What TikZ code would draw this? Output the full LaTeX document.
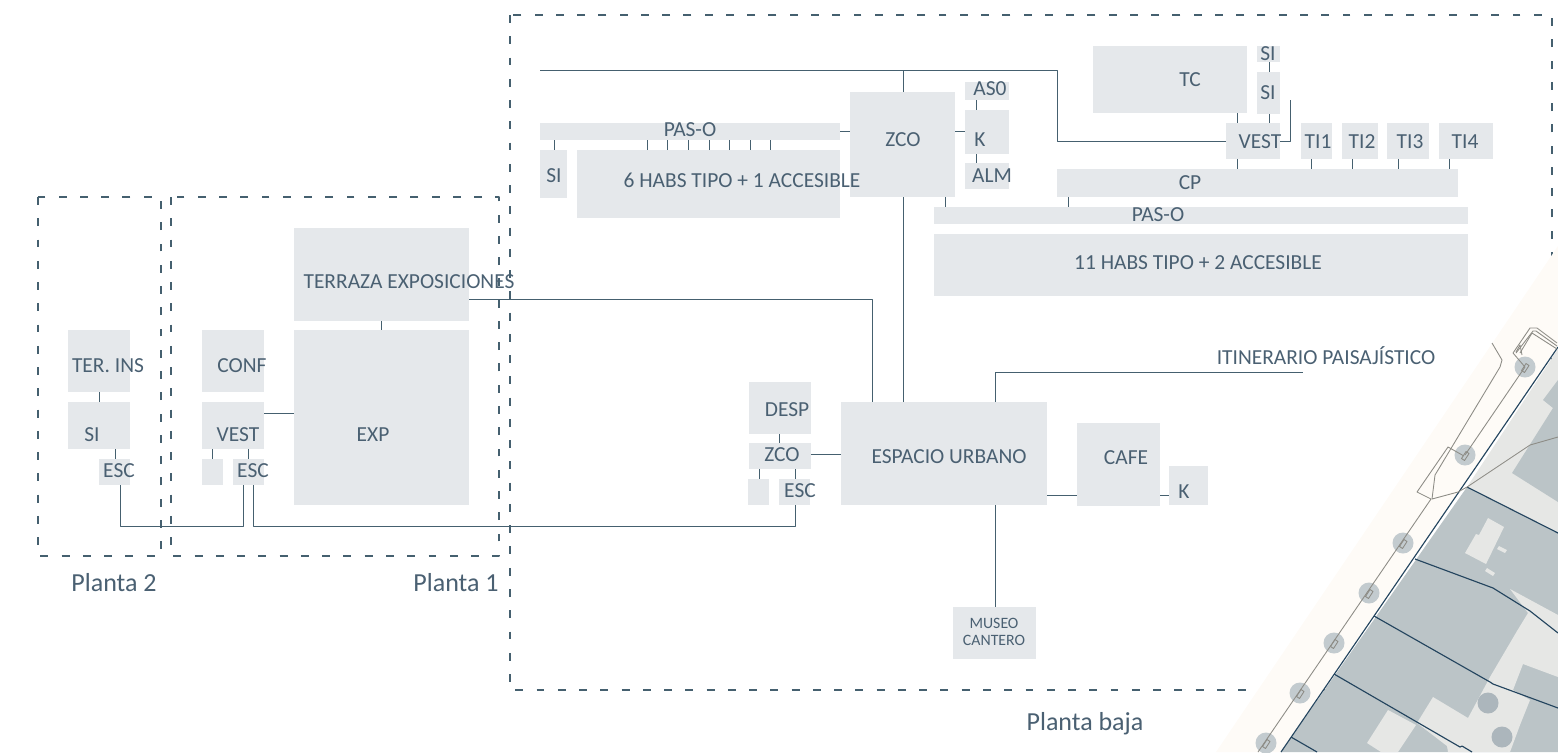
\documentclass[tikz,border=0pt]{standalone}
\usepackage{fontspec}
\setmainfont{Carlito}
\usepackage{pgf,tikz}
\usetikzlibrary{fit}
\definecolor{roomfill}{HTML}{E5E8EB}
\definecolor{inkblue}{HTML}{4A6072}
\definecolor{linkblue}{HTML}{45606F}
\definecolor{bandfill}{HTML}{FEFBF7}
\definecolor{parcel}{HTML}{BBC4C7}
\definecolor{builtfill}{HTML}{E6E7E5}
\definecolor{treefill}{HTML}{C3CBCF}
\definecolor{bigtree}{HTML}{ACB6BC}
\definecolor{edgeblue}{HTML}{24455F}
\definecolor{mapgrey}{HTML}{8D8C86}
\tikzset{
  room/.style={fill=roomfill,inner sep=0pt,outer sep=0pt},
  roomtext/.style={text=inkblue,inner sep=0pt,text height=8pt,text depth=0pt,font=\fontsize{12.2pt}{14pt}\selectfont},
  plantatext/.style={text=inkblue,inner sep=0pt,text height=9pt,text depth=0pt,font=\fontsize{14.8pt}{16pt}\selectfont},
  link/.style={draw=linkblue,line width=0.5pt},
  dashbox/.style={draw=linkblue,line width=0.6pt,dash pattern=on 4.5pt off 7.6pt},
  mapline/.style={draw=mapgrey,line width=0.5pt},
  edgeline/.style={draw=edgeblue,line width=0.65pt}
}
\newcommand{\vlink}[3]{\draw[link] (#1,0 |- #2.south) -- (#1,0 |- #3.north);}
\newcommand{\hlink}[3]{\draw[link] (#2.east |- 0,#1) -- (#3.west |- 0,#1);}
\begin{document}
\begin{tikzpicture}[line cap=butt,line join=round,x=0.02cm,y=-0.02cm]
\useasboundingbox (0,0) rectangle (1558,752);
% plantas
\draw[dashbox] (38,197) rectangle (161,556);
\draw[dashbox] (171,197) rectangle (499,556);
\draw[dashbox] (510,15) rectangle (1552,690);
% plano
\fill[bandfill] (1560,243) -- (1560,345) -- (1281,752) -- (1216,752) -- cycle;
\fill[builtfill] (1558,349) -- (1467,487) -- (1558,533) -- cycle;
\fill[parcel] (1558,380) -- (1543,400) -- (1553,408) -- (1512,473) -- (1558,502) -- cycle;
\fill[parcel] (1467,487) -- (1558,533) -- (1558,752) -- (1281,752) -- cycle;
\fill[builtfill] (1488,518) -- (1504,527) -- (1486,564) -- (1465,553) -- (1476,534) -- (1479,535) -- cycle;
\fill[builtfill] (1499,546) -- (1507,550) -- (1505,553) -- (1497,549) -- cycle;
\fill[builtfill] (1487,568) -- (1495,573) -- (1493,576) -- (1485,571) -- cycle;
\fill[builtfill] (1510,589) -- (1558,615) -- (1558,677) -- (1523,664) -- (1513,690) -- (1530,700) -- (1520,725) -- (1510,752) -- (1448,752) -- (1447,746) -- (1417,723) -- (1433,697) -- (1468,718) -- (1490,677) -- (1517,631) -- (1528,613) -- cycle;
\fill[builtfill] (1367,743) -- (1388,710) -- (1416,725) -- (1398,752) -- (1381,752) -- cycle;
\fill[bigtree] (1488,703) circle (10.5);
\fill[bigtree] (1502,737) circle (10.5);
\foreach \tx/\ty in {1525/367,1465/455,1403/543,1369/593,1334/643,1300/693,1266/743}
  \fill[treefill] (\tx,\ty) circle (10.5);
\draw[edgeline] (1558,347) -- (1281,752);
\draw[edgeline] (1467,487) -- (1558,533);
\draw[edgeline] (1415,559) -- (1493,588) -- (1530,611) -- (1558,633);
\draw[edgeline] (1374,616) -- (1490,682) -- (1493,684) -- (1558,708);
\draw[edgeline] (1334,674) -- (1460,747) -- (1462,746) -- (1472,752);
\draw[edgeline] (1291,737) -- (1317,752);
\draw[mapline] (1258,752) -- (1431,499) -- (1417,492) -- (1448,447) -- (1464,456);
\draw[mapline] (1465,455) -- (1525,367) -- (1513,353) -- (1530,328) -- (1537,328) -- (1557,343);
\draw[mapline] (1516,353) -- (1533,331) -- (1536,331) -- (1557,346);
\draw[mapline] (1520,353) -- (1532,333) -- (1557,349);
\draw[mapline] (1516,352) -- (1520,345) -- (1522,355);
\draw[mapline] (1492,343) -- (1502,360) -- (1500,367) -- (1435,475) -- (1432,499) -- (1458,492) -- (1467,487) -- (1530,445) -- (1558,437);
\foreach \tx/\ty in {1525/367,1465/455,1403/543,1369/593,1334/643,1300/693,1266/743}
  \draw[mapline] (\tx,\ty) +(-3.5,3.5) -- +(-0.5,5.5) -- +(4,-1.5) -- +(1,-3.5) -- cycle;
% salas
\foreach \nm/\xa/\ya/\xb/\yb in {
  ter/68/330/130/392,sib/68/402/130/449,escb/99/459/130/485,
  conf/202/330/264/392,vestb/202/402/264/449,blanka/202/459/223/485,esca/233/459/264/485,
  terr/294/228/469/321,exp/294/330/469/505,
  desp/749/382/811/434,zcob/749/443/811/469,blankb/748/479/769/505,escc/779/479/810/505,
  eu/841/402/1047/505,cafe/1077/423/1160/506,kb/1169/466/1208/505,museo/953/607/1036/659,
  paso/540/123/840/140,sil/540/150/567/198,habsa/577/150/840/218,
  zco/850/92/955/197,aso/965/82/1009/100,kt/965/110/1009/154,alm/965/163/1009/189,
  tc/1093/46/1247/113,sia/1257/46/1280/62,sic/1257/72/1280/114,vest/1226/123/1280/159,
  tia/1301/123/1332/159,tib/1342/123/1378/159,tic/1387/123/1429/159,tid/1439/123/1493/159,
  cp/1057/169/1458/197,pasob/934/207/1468/224,habsb/934/234/1468/296}
  \node[room,fit={(\xa,\ya) (\xb,\yb)}] (\nm) {};
% enlaces
\vlink{99}{ter}{sib}
\vlink{115}{sib}{escb}
\vlink{212}{vestb}{blanka}
\vlink{248}{vestb}{esca}
\vlink{381}{terr}{exp}
\hlink{413}{vestb}{exp}
\vlink{779}{desp}{zcob}
\vlink{759}{zcob}{blankb}
\vlink{795}{zcob}{escc}
\hlink{454}{zcob}{eu}
\hlink{495}{eu}{cafe}
\hlink{495}{cafe}{kb}
\vlink{995}{eu}{museo}
\vlink{903}{zco}{eu}
\vlink{945}{zco}{pasob}
\vlink{554}{paso}{sil}
\foreach \tx in {647,667,688,709,729,750,770}
  \vlink{\tx}{paso}{habsa}
\hlink{131}{paso}{zco}
\hlink{131}{zco}{kt}
\vlink{976}{aso}{kt}
\vlink{976}{kt}{alm}
\vlink{1237}{tc}{vest}
\vlink{1269}{sia}{sic}
\vlink{1269}{sic}{vest}
\vlink{1237}{vest}{cp}
\vlink{1311}{tia}{cp}
\vlink{1352}{tib}{cp}
\vlink{1398}{tic}{cp}
\vlink{1449}{tid}{cp}
\vlink{1068}{cp}{pasob}
\coordinate (topstart) at (540,70);
\coordinate (topzco) at (903,70);
\coordinate (vestend) at (1290,100);
\coordinate (itinend) at (1303,372);
\draw[link] (topstart) -- (1057,70) -- (1057,141) -- (vest.west |- 0,141);
\draw[link] (topzco) -- (zco.north -| topzco);
\draw[link] (vest.east |- 0,141) -- (1290,141) -- (vestend);
\draw[link] (995,0 |- eu.north) -- (995,372) -- (itinend);
\draw[link] (terr.east |- 0,299) -- (872,299) -- (872,0 |- eu.north);
\draw[link] (120,0 |- escb.south) -- (120,526) -- (243,526) -- (243,0 |- esca.south);
\draw[link] (253,0 |- esca.south) -- (253,526) -- (795,526) -- (795,0 |- escc.south);
% textos
\foreach \nm/\lx/\ly/\lb in {
  lter/108/365/TER. INS,lsib/92/434/SI,lescb/119/470/ESC,
  lconf/242/365/CONF,lvestb/238/434/VEST,lesca/253/470/ESC,
  lterr/409/281/TERRAZA EXPOSICIONES,lexp/373/434/EXP,
  ldesp/787/409/DESP,lzcob/782/454/ZCO,lescc/800/490/ESC,
  leu/949/456/ESPACIO URBANO,lcafe/1126/457/CAFE,lkb/1184/491/K,
  lpaso/690/129/PAS-O,lsil/554/175/SI,lhabsa/742/180/6 HABS TIPO + 1 ACCESIBLE,
  lzco/903/139/ZCO,laso/990/88/AS0,lkt/980/139/K,lalm/992/175/ALM,
  ltc/1190/79/TC,lsia/1268/53/SI,lsic/1268/92/SI,lvest/1260/141/VEST,
  ltia/1318/141/TI1,ltib/1362/141/TI2,ltic/1410/141/TI3,ltid/1465/141/TI4,
  lcp/1190/182/CP,lpasob/1158/214/PAS-O,lhabsb/1198/262/11 HABS TIPO + 2 ACCESIBLE,
  litin/1326/357/ITINERARIO PAISAJÍSTICO}
  \node[roomtext] (\nm) at (\lx,\ly) {\lb};
\node[roomtext,font=\fontsize{9pt}{10pt}\selectfont,text height=6pt] (lmuseoa) at (994,623) {MUSEO};
\node[roomtext,font=\fontsize{9pt}{10pt}\selectfont,text height=6pt] (lmuseob) at (994,640) {CANTERO};
\node[plantatext] (lpdos) at (114,584) {Planta 2};
\node[plantatext] (lpuno) at (456,584) {Planta 1};
\node[plantatext] (lpbaja) at (1085,723) {Planta baja};
\end{tikzpicture}
\end{document}
